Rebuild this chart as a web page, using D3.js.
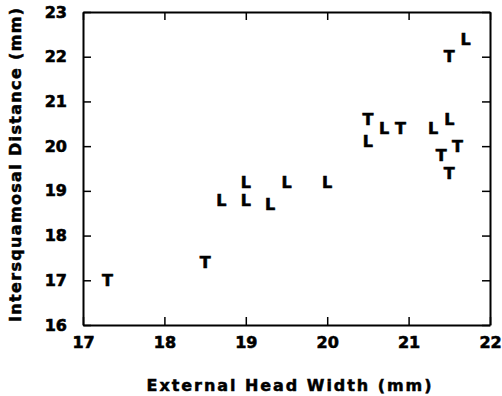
<!DOCTYPE html>
<html>
<head>
<meta charset="utf-8">
<script src="https://cdn.jsdelivr.net/npm/d3@7"></script>
<style>
  body { margin: 0; background: #fff; }
  text { font-family: "DejaVu Sans", sans-serif; font-weight: bold; fill: #000; }
</style>
</head>
<body>
<div class="visHolder"></div>
<script>
// point data (mm)
var species = ["T","T","L","L","L","L","L","L","T","L","L","T","L","L","T","T","T","T","L"];
var headWidth = [17.3, 18.5, 18.7, 19.0, 19.0, 19.3, 19.5, 20.0, 20.5, 20.5, 20.7, 20.9, 21.3, 21.5, 21.4, 21.6, 21.5, 21.5, 21.7];
var interSq   = [17.0, 17.4, 18.8, 19.2, 18.8, 18.7, 19.2, 19.2, 20.6, 20.1, 20.4, 20.4, 20.4, 20.6, 19.8, 20.0, 19.4, 22.0, 22.4];
var xTicks = [17, 18, 19, 20, 21, 22];
var yTicks = [16, 17, 18, 19, 20, 21, 22, 23];

var margin = { top: 12, right: 12, bottom: 71, left: 83 },
    width = 502 - margin.left - margin.right,
    height = 396 - margin.top - margin.bottom;

var svg = d3.select(".visHolder")
    .append("svg")
    .attr("width", 502)
    .attr("height", 396);

var g = svg.append("g")
    .attr("transform", "translate(" + margin.left + "," + margin.top + ")");

var x = d3.scaleLinear().domain([17, 22]).range([0, width]);
var y = d3.scaleLinear().domain([16, 23]).range([height, 0]);

// axes, ticks pointing inward
g.append("g")
    .attr("transform", "translate(0," + height + ")")
    .call(d3.axisBottom(x).tickValues(xTicks).tickSize(-8).tickSizeOuter(0).tickPadding(12).tickFormat(d3.format("d")));

g.append("g")
    .call(d3.axisLeft(y).tickValues(yTicks).tickSize(-8).tickSizeOuter(0).tickPadding(16).tickFormat(d3.format("d")));

g.append("g")
    .call(d3.axisTop(x).tickValues(xTicks).tickSize(-8).tickSizeOuter(0).tickFormat(""));

g.append("g")
    .attr("transform", "translate(" + width + ",0)")
    .call(d3.axisRight(y).tickValues(yTicks).tickSize(-8).tickSizeOuter(0).tickFormat(""));

g.selectAll(".domain").attr("stroke", "#000").attr("stroke-width", 2);
g.selectAll(".tick line").attr("stroke", "#000").attr("stroke-width", 1.5);
g.selectAll(".tick text")
    .style("font-family", "DejaVu Sans, sans-serif")
    .style("font-weight", "bold")
    .style("font-size", "16px")
    .style("stroke", "#000")
    .style("stroke-width", "0.6px")
    .attr("fill", "#000");

// letter markers
var pts = species.map(function(s, i) { return { s: s, x: headWidth[i], y: interSq[i] }; });

g.selectAll(".pt")
    .data(pts)
    .enter()
    .append("text")
    .attr("class", "pt")
    .attr("x", function(d) { return x(d.x); })
    .attr("y", function(d) { return y(d.y); })
    .attr("dy", "0.36em")
    .attr("text-anchor", "middle")
    .style("font-size", "16px")
    .style("stroke", "#000")
    .style("stroke-width", "0.6px")
    .text(function(d) { return d.s; });

// axis titles
svg.append("text")
    .attr("x", 289)
    .attr("y", 391)
    .attr("text-anchor", "middle")
    .attr("textLength", 285)
    .attr("lengthAdjust", "spacing")
    .style("font-size", "16px")
    .style("stroke", "#000")
    .style("stroke-width", "0.5px")
    .text("External Head Width (mm)");

svg.append("text")
    .attr("transform", "translate(21,165) rotate(-90)")
    .attr("text-anchor", "middle")
    .attr("textLength", 314)
    .attr("lengthAdjust", "spacing")
    .style("font-size", "16px")
    .style("stroke", "#000")
    .style("stroke-width", "0.5px")
    .text("Intersquamosal Distance (mm)");
</script>
</body>
</html>
